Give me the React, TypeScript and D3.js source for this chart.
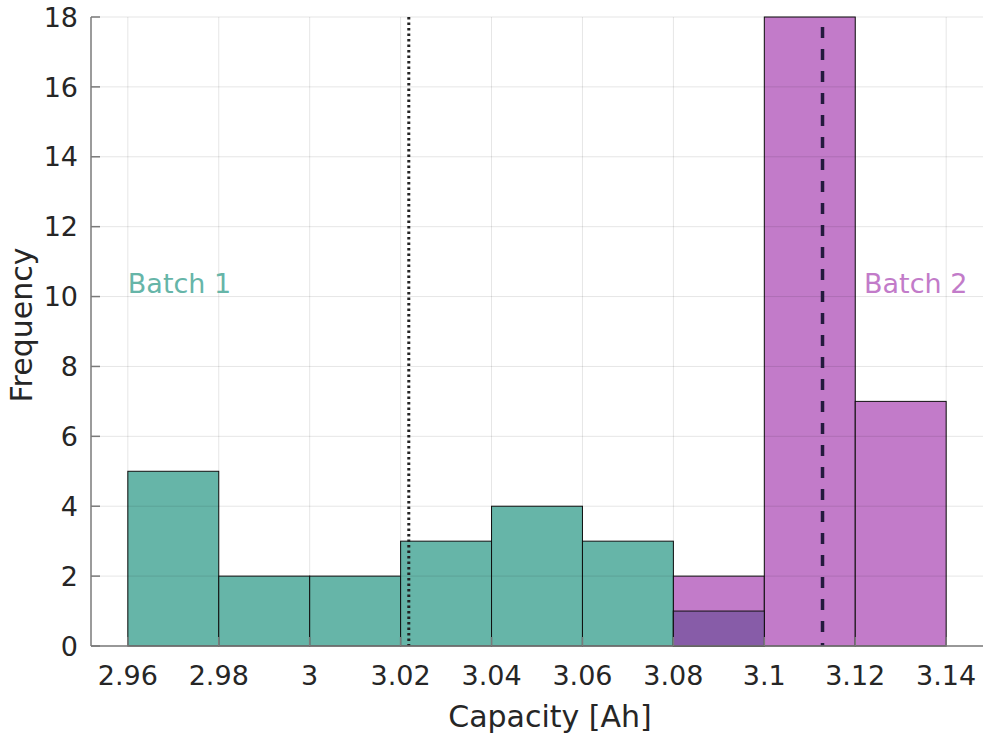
import { useMemo } from "react";
import { scaleLinear } from "d3";

const binEdges = [2.96, 2.98, 3.0, 3.02, 3.04, 3.06, 3.08, 3.1, 3.12, 3.14];
const batch1Counts = [5, 2, 2, 3, 4, 3, 1, 0, 0];
const batch2Counts = [0, 0, 0, 0, 0, 0, 2, 18, 7];
const xTicks = [2.96, 2.98, 3.0, 3.02, 3.04, 3.06, 3.08, 3.1, 3.12, 3.14];
const yTicks = [0, 2, 4, 6, 8, 10, 12, 14, 16, 18];
const batch1Mean = 3.0218;
const batch2Mean = 3.1128;

const W = 985;
const H = 734;
const margin = { top: 17, right: 2, bottom: 88, left: 91 };
const FONT = "'DejaVu Sans', sans-serif";

export default function App() {
  const x = useMemo(
    () => scaleLinear().domain([2.9519, 3.1481]).range([margin.left, W - margin.right]),
    []
  );
  const y = useMemo(
    () => scaleLinear().domain([0, 18]).range([H - margin.bottom, margin.top]),
    []
  );
  const y0 = y(0);

  const bars = (counts: number[], fill: string) =>
    counts.map((c, i) =>
      c > 0 ? (
        <rect
          key={`${fill}-${i}`}
          x={x(binEdges[i])}
          y={y(c)}
          width={x(binEdges[i + 1]) - x(binEdges[i])}
          height={y0 - y(c)}
          fill={fill}
          stroke="#111"
          strokeWidth={1}
        />
      ) : null
    );

  return (
    <div style={{ position: "absolute", left: 0, top: 0 }}>
      <svg width={W} height={H} style={{ display: "block", background: "#fff" }}>
        {/* bars */}
        {bars(batch1Counts, "#66b5a8")}
        {bars(batch2Counts, "#c27bc9")}
        {/* overlap of the two batches */}
        {batch1Counts.map((c, i) =>
          c > 0 && batch2Counts[i] > 0 ? (
            <rect
              key={`ov-${i}`}
              x={x(binEdges[i])}
              y={y(Math.min(c, batch2Counts[i]))}
              width={x(binEdges[i + 1]) - x(binEdges[i])}
              height={y0 - y(Math.min(c, batch2Counts[i]))}
              fill="#875ca8"
              stroke="#111"
              strokeWidth={1}
            />
          ) : null
        )}

        {/* grid */}
        <g stroke="#000" strokeOpacity={0.1} strokeWidth={1}>
          {xTicks.map((t) => (
            <line key={`gx-${t}`} x1={x(t)} x2={x(t)} y1={margin.top} y2={y0} />
          ))}
          {yTicks.map((t) => (
            <line key={`gy-${t}`} x1={margin.left} x2={W - margin.right} y1={y(t)} y2={y(t)} />
          ))}
        </g>

        {/* mean lines */}
        <line
          x1={x(batch1Mean)}
          x2={x(batch1Mean)}
          y1={margin.top}
          y2={y0}
          stroke="#222"
          strokeWidth={3}
          strokeDasharray="2.5 3"
        />
        <line
          x1={x(batch2Mean)}
          x2={x(batch2Mean)}
          y1={margin.top + 10}
          y2={y0}
          stroke="#231a3d"
          strokeWidth={3.5}
          strokeDasharray="11 11"
        />

        {/* axes */}
        <g stroke="#7a7a7a" strokeWidth={1.5} fill="none">
          <line x1={margin.left} x2={margin.left} y1={margin.top} y2={y0} />
          <line x1={margin.left} x2={W - margin.right} y1={y0} y2={y0} />
          {yTicks.map((t) => (
            <line key={`ty-${t}`} x1={margin.left} x2={margin.left + 9} y1={y(t)} y2={y(t)} />
          ))}
          {xTicks.map((t) => (
            <line key={`tx-${t}`} x1={x(t)} x2={x(t)} y1={y0} y2={y0 - 9} />
          ))}
        </g>

        <g fontFamily={FONT} fontSize={27} fill="#262626">
          {yTicks.map((t) => (
            <text key={`ly-${t}`} x={margin.left - 13} y={y(t)} dy="0.36em" textAnchor="end">
              {t}
            </text>
          ))}
          {xTicks.map((t) => (
            <text key={`lx-${t}`} x={x(t)} y={y0 + 39} textAnchor="middle">
              {String(+t.toFixed(2))}
            </text>
          ))}
        </g>

        <text x={550} y={727} fontFamily={FONT} fontSize={30} fill="#262626" textAnchor="middle">
          Capacity [Ah]
        </text>
        <text
          transform={`translate(32, 325) rotate(-90)`}
          fontFamily={FONT}
          fontSize={30}
          fill="#262626"
          textAnchor="middle"
        >
          Frequency
        </text>

        <text x={x(2.96)} y={293} fontFamily={FONT} fontSize={27} fill="#66b5a8">
          Batch 1
        </text>
        <text x={864} y={293} fontFamily={FONT} fontSize={27} fill="#c27bc9">
          Batch 2
        </text>
      </svg>
    </div>
  );
}
